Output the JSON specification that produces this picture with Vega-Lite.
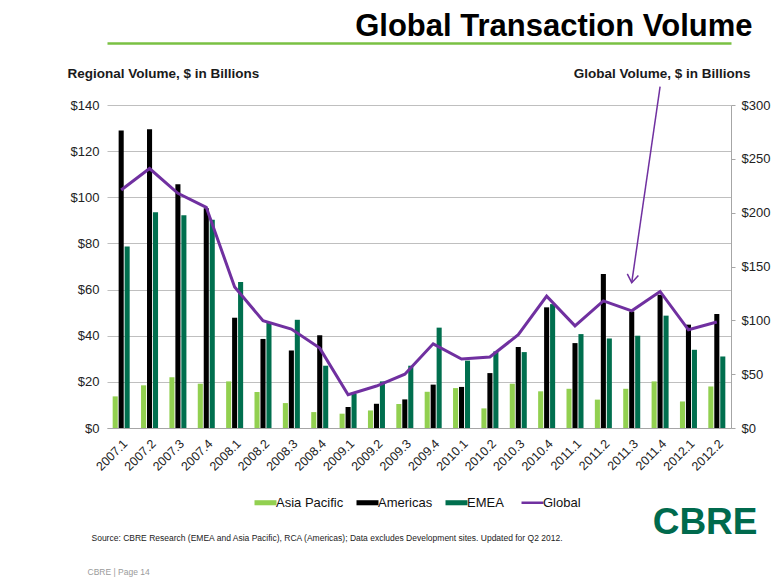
{
  "$schema": "https://vega.github.io/schema/vega-lite/v6.json",
  "width": 624,
  "height": 323,
  "autosize": {"type": "none"},
  "padding": {"left": 107, "top": 105, "right": 49, "bottom": 157},
  "background": "#ffffff",
  "config": {
    "view": {"stroke": null},
    "font": "Liberation Sans",
    "axis": {"labelFont": "Liberation Sans", "titleFont": "Liberation Sans"},
    "legend": {"labelFont": "Liberation Sans"}
  },
  "datasets": {
    "regional": [
      {"q": "2007.1", "series": "Asia Pacific", "v": 13.7}, {"q": "2007.1", "series": "Americas", "v": 129.0}, {"q": "2007.1", "series": "EMEA", "v": 78.7},
      {"q": "2007.2", "series": "Asia Pacific", "v": 18.5}, {"q": "2007.2", "series": "Americas", "v": 129.5}, {"q": "2007.2", "series": "EMEA", "v": 93.5},
      {"q": "2007.3", "series": "Asia Pacific", "v": 22.0}, {"q": "2007.3", "series": "Americas", "v": 105.7}, {"q": "2007.3", "series": "EMEA", "v": 92.2},
      {"q": "2007.4", "series": "Asia Pacific", "v": 19.2}, {"q": "2007.4", "series": "Americas", "v": 95.3}, {"q": "2007.4", "series": "EMEA", "v": 90.3},
      {"q": "2008.1", "series": "Asia Pacific", "v": 20.2}, {"q": "2008.1", "series": "Americas", "v": 47.8}, {"q": "2008.1", "series": "EMEA", "v": 63.3},
      {"q": "2008.2", "series": "Asia Pacific", "v": 15.6}, {"q": "2008.2", "series": "Americas", "v": 38.6}, {"q": "2008.2", "series": "EMEA", "v": 45.5},
      {"q": "2008.3", "series": "Asia Pacific", "v": 10.8}, {"q": "2008.3", "series": "Americas", "v": 33.6}, {"q": "2008.3", "series": "EMEA", "v": 46.9},
      {"q": "2008.4", "series": "Asia Pacific", "v": 6.9}, {"q": "2008.4", "series": "Americas", "v": 40.2}, {"q": "2008.4", "series": "EMEA", "v": 27.0},
      {"q": "2009.1", "series": "Asia Pacific", "v": 6.2}, {"q": "2009.1", "series": "Americas", "v": 9.1}, {"q": "2009.1", "series": "EMEA", "v": 14.8},
      {"q": "2009.2", "series": "Asia Pacific", "v": 7.6}, {"q": "2009.2", "series": "Americas", "v": 10.5}, {"q": "2009.2", "series": "EMEA", "v": 20.2},
      {"q": "2009.3", "series": "Asia Pacific", "v": 10.4}, {"q": "2009.3", "series": "Americas", "v": 12.4}, {"q": "2009.3", "series": "EMEA", "v": 27.0},
      {"q": "2009.4", "series": "Asia Pacific", "v": 15.7}, {"q": "2009.4", "series": "Americas", "v": 18.8}, {"q": "2009.4", "series": "EMEA", "v": 43.5},
      {"q": "2010.1", "series": "Asia Pacific", "v": 17.3}, {"q": "2010.1", "series": "Americas", "v": 17.8}, {"q": "2010.1", "series": "EMEA", "v": 29.2},
      {"q": "2010.2", "series": "Asia Pacific", "v": 8.5}, {"q": "2010.2", "series": "Americas", "v": 23.8}, {"q": "2010.2", "series": "EMEA", "v": 33.2},
      {"q": "2010.3", "series": "Asia Pacific", "v": 19.2}, {"q": "2010.3", "series": "Americas", "v": 35.1}, {"q": "2010.3", "series": "EMEA", "v": 32.9},
      {"q": "2010.4", "series": "Asia Pacific", "v": 15.9}, {"q": "2010.4", "series": "Americas", "v": 52.3}, {"q": "2010.4", "series": "EMEA", "v": 53.7},
      {"q": "2011.1", "series": "Asia Pacific", "v": 17.0}, {"q": "2011.1", "series": "Americas", "v": 36.8}, {"q": "2011.1", "series": "EMEA", "v": 40.7},
      {"q": "2011.2", "series": "Asia Pacific", "v": 12.3}, {"q": "2011.2", "series": "Americas", "v": 66.7}, {"q": "2011.2", "series": "EMEA", "v": 38.8},
      {"q": "2011.3", "series": "Asia Pacific", "v": 17.0}, {"q": "2011.3", "series": "Americas", "v": 50.5}, {"q": "2011.3", "series": "EMEA", "v": 40.0},
      {"q": "2011.4", "series": "Asia Pacific", "v": 20.2}, {"q": "2011.4", "series": "Americas", "v": 57.8}, {"q": "2011.4", "series": "EMEA", "v": 48.7},
      {"q": "2012.1", "series": "Asia Pacific", "v": 11.5}, {"q": "2012.1", "series": "Americas", "v": 44.8}, {"q": "2012.1", "series": "EMEA", "v": 33.9},
      {"q": "2012.2", "series": "Asia Pacific", "v": 18.0}, {"q": "2012.2", "series": "Americas", "v": 49.4}, {"q": "2012.2", "series": "EMEA", "v": 31.0}
    ],
    "global": [
      {"q": "2007.1", "series": "Global", "v": 221}, {"q": "2007.2", "series": "Global", "v": 241}, {"q": "2007.3", "series": "Global", "v": 218},
      {"q": "2007.4", "series": "Global", "v": 205}, {"q": "2008.1", "series": "Global", "v": 131}, {"q": "2008.2", "series": "Global", "v": 99.6},
      {"q": "2008.3", "series": "Global", "v": 91.9}, {"q": "2008.4", "series": "Global", "v": 74.2}, {"q": "2009.1", "series": "Global", "v": 30.9},
      {"q": "2009.2", "series": "Global", "v": 39}, {"q": "2009.3", "series": "Global", "v": 50}, {"q": "2009.4", "series": "Global", "v": 78.2},
      {"q": "2010.1", "series": "Global", "v": 64}, {"q": "2010.2", "series": "Global", "v": 65.9}, {"q": "2010.3", "series": "Global", "v": 86.6},
      {"q": "2010.4", "series": "Global", "v": 122.5}, {"q": "2011.1", "series": "Global", "v": 94.9}, {"q": "2011.2", "series": "Global", "v": 118},
      {"q": "2011.3", "series": "Global", "v": 108.8}, {"q": "2011.4", "series": "Global", "v": 126.8}, {"q": "2012.1", "series": "Global", "v": 91.2},
      {"q": "2012.2", "series": "Global", "v": 98.4}
    ],
    "arrow": [
      {"q": "2011.3", "q2": "2011.4", "v": 135, "v2": 317}
    ]
  },
  "layer": [
    {
      "data": {"name": "regional"},
      "mark": {"type": "bar"},
      "encoding": {
        "x": {
          "field": "q", "type": "nominal",
          "scale": {"paddingInner": 0.4, "paddingOuter": 0.2},
          "axis": {
            "orient": "bottom",
            "labelAngle": -45, "labelFontSize": 12.5, "labelColor": "#222222", "labelPadding": 9,
            "ticks": false, "domain": true, "domainColor": "#A6A6A6", "grid": false,
            "title": "Source: CBRE Research (EMEA and Asia Pacific), RCA (Americas); Data excludes Development sites. Updated for Q2 2012.",
            "titleX": -16, "titleY": 112, "titleAlign": "left", "titleBaseline": "alphabetic", "titleAngle": 0,
            "titleFontSize": 8.5, "titleFontWeight": "normal", "titleColor": "#222222"
          }
        },
        "xOffset": {
          "field": "series", "type": "nominal",
          "sort": ["Asia Pacific", "Americas", "EMEA"],
          "scale": {"paddingInner": 0.15, "paddingOuter": 0}
        },
        "y": {
          "field": "v", "type": "quantitative",
          "scale": {"domain": [0, 140]},
          "axis": {
            "values": [0, 20, 40, 60, 80, 100, 120, 140], "format": "$.0f",
            "labelFontSize": 13, "labelColor": "#222222", "labelPadding": 8,
            "ticks": false, "domain": false, "grid": true, "gridColor": "#BFBFBF", "gridWidth": 1,
            "title": "Regional Volume, $ in Billions",
            "titleX": -40, "titleY": -28, "titleAlign": "left", "titleBaseline": "alphabetic", "titleAngle": 0,
            "titleFontSize": 13.5, "titleFontWeight": "bold", "titleColor": "#1a1a1a"
          }
        },
        "color": {
          "field": "series", "type": "nominal",
          "scale": {"domain": ["Asia Pacific", "Americas", "EMEA", "Global"], "range": ["#92D050", "#000000", "#006F4E", "#7030A0"]},
          "legend": {
            "orient": "none", "legendX": 152, "legendY": 391, "direction": "horizontal", "columns": 4,
            "title": null, "labelFontSize": 13, "labelColor": "#111111", "labelOffset": 4,
            "symbolSize": 484, "symbolOffset": 0, "columnPadding": 12, "padding": 0,
            "encode": {
              "symbols": {
                "update": {
                  "shape": {"signal": "datum.value === 'Global' ? 'stroke' : 'M-1,-0.23H1V0.23H-1Z'"},
                  "fill": {"scale": "color", "field": "value"},
                  "stroke": {"scale": "color", "field": "value"},
                  "strokeWidth": {"signal": "datum.value === 'Global' ? 2.5 : 0"},
                  "size": {"value": 484},
                  "opacity": {"value": 1}
                }
              }
            }
          }
        }
      }
    },
    {
      "data": {"name": "global"},
      "mark": {"type": "line", "strokeWidth": 3},
      "encoding": {
        "x": {
          "field": "q", "type": "nominal",
          "axis": {
            "orient": "bottom",
            "labels": false, "ticks": false, "domain": false, "grid": false,
            "title": "CBRE  |  Page 14",
            "titleX": -20, "titleY": 146, "titleAlign": "left", "titleBaseline": "alphabetic", "titleAngle": 0,
            "titleFontSize": 8.5, "titleFontWeight": "normal", "titleColor": "#9A9A9A"
          }
        },
        "y": {
          "field": "v", "type": "quantitative",
          "scale": {"domain": [0, 300]},
          "axis": {
            "orient": "right", "values": [0, 50, 100, 150, 200, 250, 300], "format": "$.0f",
            "labelFontSize": 13, "labelColor": "#222222", "labelPadding": 6,
            "ticks": true, "tickSize": 4, "tickColor": "#A6A6A6", "domain": true, "domainColor": "#A6A6A6", "grid": false,
            "title": "Global Volume, $ in Billions",
            "titleX": 19, "titleY": -28, "titleAlign": "right", "titleBaseline": "alphabetic", "titleAngle": 0,
            "titleFontSize": 13.5, "titleFontWeight": "bold", "titleColor": "#1a1a1a"
          }
        },
        "color": {"field": "series", "type": "nominal"}
      }
    },
    {
      "data": {"name": "arrow"},
      "mark": {"type": "rule", "color": "#7030A0", "strokeWidth": 1.5},
      "encoding": {
        "x": {
          "field": "q", "type": "nominal",
          "axis": {
            "orient": "top", "offset": 62, "labels": false, "ticks": false, "grid": false,
            "domain": true, "domainColor": "#7AC143", "domainWidth": 2.5,
            "title": "Global Transaction Volume",
            "titleX": 645, "titleY": -8, "titleAlign": "right", "titleBaseline": "alphabetic", "titleAngle": 0,
            "titleFontSize": 31, "titleFontWeight": "bold", "titleColor": "#000000"
          }
        },
        "x2": {"field": "q2"},
        "y": {"field": "v", "type": "quantitative", "scale": {"domain": [0, 300]}, "axis": null},
        "y2": {"field": "v2"}
      }
    },
    {
      "data": {"name": "arrow"},
      "mark": {"type": "point", "shape": "M-0.7,-1L0,0L0.7,-1", "filled": false, "color": "#7030A0", "strokeWidth": 1.5, "size": 256, "angle": 8, "opacity": 1},
      "encoding": {
        "x": {"field": "q", "type": "nominal", "axis": null},
        "y": {
          "field": "v", "type": "quantitative", "scale": {"domain": [0, 300]},
          "axis": {
            "orient": "right", "labels": false, "ticks": false, "domain": false, "grid": false,
            "title": "CBRE",
            "titleX": 26, "titleY": 428, "titleAlign": "right", "titleBaseline": "alphabetic", "titleAngle": 0,
            "titleFontSize": 37, "titleFontWeight": "bold", "titleColor": "#006A4D"
          }
        }
      }
    }
  ],
  "resolve": {"scale": {"y": "independent"}, "axis": {"x": "independent", "y": "independent"}}
}
